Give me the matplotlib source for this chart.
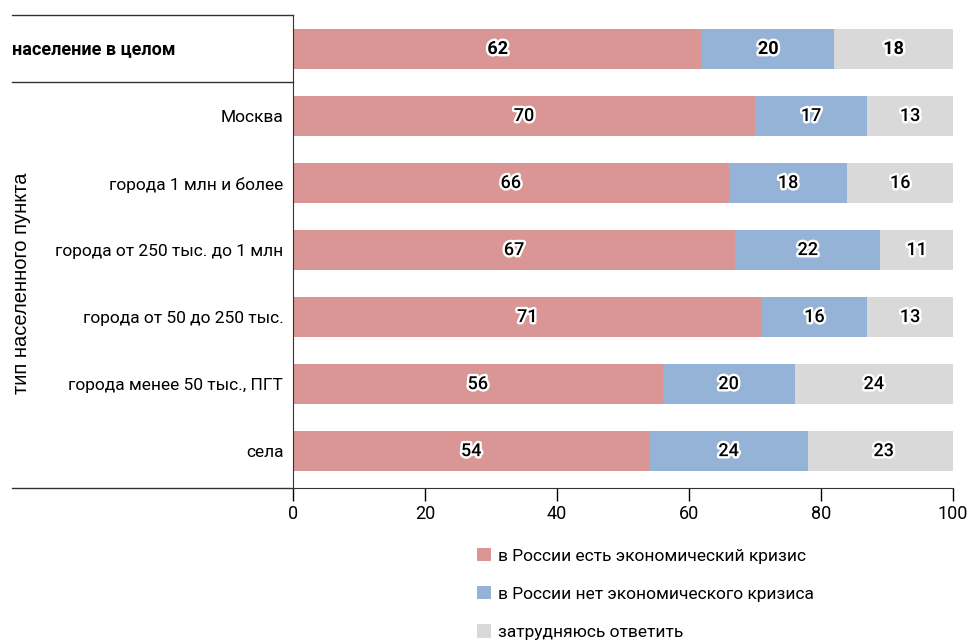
import numpy as np
import matplotlib
matplotlib.use('Agg')
import matplotlib.pyplot as plt
import matplotlib.patheffects as pe
import matplotlib.transforms as mtransforms
from matplotlib.patches import Patch

plt.rcParams['font.family'] = ['Roboto', 'DejaVu Sans']

# данные
categories = ['население в целом', 'Москва', 'города 1 млн и более',
              'города от 250 тыс. до 1 млн', 'города от 50 до 250 тыс.',
              'города менее 50 тыс., ПГТ', 'села']
crisis_yes = [62, 70, 66, 67, 71, 56, 54]
crisis_no = [20, 17, 18, 22, 16, 20, 24]
hard_to_say = [18, 13, 16, 11, 13, 24, 23]
series_names = ['в России есть экономический кризис',
                'в России нет экономического кризиса',
                'затрудняюсь ответить']
colors = ['#da9595', '#95b3d7', '#d9d9d9']
x_ticks = [0, 20, 40, 60, 80, 100]

fig = plt.figure(figsize=(9.7, 6.42), dpi=100)
ax = fig.add_axes([293 / 970, 1 - 488 / 642, 660 / 970, 473 / 642])

y = np.arange(len(categories))
left = np.zeros(len(categories))
stroke = [pe.withStroke(linewidth=3.5, foreground='white')]
for vals, col in zip([crisis_yes, crisis_no, hard_to_say], colors):
    vals = np.array(vals, dtype=float)
    ax.barh(y, vals, left=left, height=0.6, color=col, edgecolor='none')
    for i, v in enumerate(vals):
        ax.text(left[i] + v / 2, y[i], f'{int(v)}', ha='center', va='center',
                fontsize=13, fontweight='bold' if i == 0 else 'medium',
                color='black', path_effects=stroke)
    left += vals

ax.set_xlim(0, 100)
ax.set_ylim(6.55, -0.507)
ax.set_xticks(x_ticks)
ax.set_xticklabels([str(t) for t in x_ticks], fontsize=13)
ax.tick_params(axis='x', length=9, width=1, pad=3, direction='out')
ax.set_yticks(y)
ax.set_yticklabels([''] + categories[1:], fontsize=12.5)
ax.tick_params(axis='y', length=0, pad=7)

for s in ['top', 'right']:
    ax.spines[s].set_visible(False)
ax.spines['left'].set_color('#333333')
ax.spines['bottom'].set_color('#333333')

# линии-разделители слева
x0 = -281 / 660
trans = mtransforms.blended_transform_factory(ax.transAxes, ax.transData)
for yy in [-0.507, 0.5]:
    ax.plot([x0, 0], [yy, yy], transform=trans, color='#333333', lw=1, clip_on=False)
ax.plot([x0, 0], [0, 0], transform=ax.transAxes, color='#333333', lw=1, clip_on=False)

# заголовок первой строки — слева, жирным
ax.text(x0, 0, categories[0], transform=trans, ha='left', va='center',
        fontsize=13, fontweight='bold')

fig.text(22 / 970, 1 - 283 / 642, 'тип населенного пункта', rotation=90,
         ha='center', va='center', fontsize=14.5,
         family=['Liberation Sans', 'DejaVu Sans'])

handles = [Patch(facecolor=c, edgecolor='none') for c in colors]
fig.legend(handles, series_names, loc='upper left',
           bbox_to_anchor=(470 / 970, 1 - 541 / 642), frameon=False,
           fontsize=12.5, handlelength=0.8, handleheight=0.8, handletextpad=0.4,
           labelspacing=1.3, borderaxespad=0)

fig.savefig('out.png', dpi=100)
